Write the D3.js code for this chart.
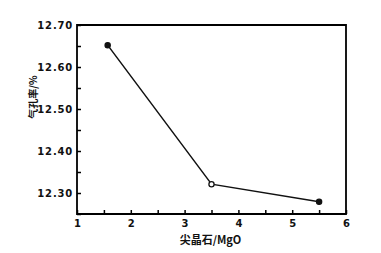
<!DOCTYPE html>
<html>
<head>
<meta charset="utf-8">
<script src="https://cdn.jsdelivr.net/npm/d3@7"></script>
<style>
  body { margin: 0; background: #fff; }
  svg text { font-family: "DejaVu Sans", sans-serif; font-weight: bold; fill: #111; }
</style>
</head>
<body>
<div id="chart"></div>
<script>
// Data
const ratios = [1.57, 3.5, 5.5];          // 尖晶石/MgO
const porosity = [12.652, 12.321, 12.279]; // 气孔率/%
const xTicks = [1, 2, 3, 4, 5, 6];
const yTicks = [12.30, 12.40, 12.50, 12.60, 12.70];

const W = 381, H = 253;
const margin = { top: 25, right: 35, bottom: 39, left: 77 };
const plotW = W - margin.left - margin.right;
const plotH = H - margin.top - margin.bottom;

const root = d3.select("#chart").append("svg")
    .attr("width", W).attr("height", H);

const x = d3.scaleLinear().domain([1, 6]).range([margin.left, margin.left + plotW]);
const y = d3.scaleLinear().domain([12.25, 12.70]).range([margin.top + plotH, margin.top]);

// frame
root.append("path")
    .attr("d", `M${x(1)},${y(12.70)}H${x(6)}V${y(12.25)}H${x(1)}Z`)
    .attr("fill", "none").attr("stroke", "black").attr("stroke-width", 1.8);

// x axis, ticks pointing inward
const xAxis = root.append("g")
    .attr("transform", `translate(0,${y(12.25)})`)
    .call(d3.axisBottom(x).tickValues(d3.range(1, 6.01, 0.5)).tickSize(-4)
        .tickFormat(d => xTicks.includes(d) ? d3.format("d")(d) : ""));
xAxis.select(".domain").remove();
xAxis.selectAll("line").attr("stroke", "black").attr("stroke-width", 1.5);
xAxis.selectAll("text").attr("dy", "1.0em").style("font-size", "10px");

// y axis
const yAxis = root.append("g")
    .attr("transform", `translate(${x(1)},0)`)
    .call(d3.axisLeft(y).tickValues(d3.range(12.25, 12.701, 0.05)).tickSize(-4)
        .tickFormat(d => yTicks.some(t => Math.abs(t - d) < 1e-6) ? d3.format(".2f")(d) : ""));
yAxis.select(".domain").remove();
yAxis.selectAll("line").attr("stroke", "black").attr("stroke-width", 1.5);
yAxis.selectAll("text").attr("x", -4).style("font-size", "10px").style("letter-spacing", "0.8px");

// line and points
const pts = ratios.map((r, i) => [r, porosity[i]]);
root.append("path")
    .datum(pts)
    .attr("fill", "none").attr("stroke", "#111").attr("stroke-width", 1.5)
    .attr("d", d3.line().x(d => x(d[0])).y(d => y(d[1])));

root.selectAll("circle.pt")
    .data(pts)
    .join("circle")
    .attr("class", "pt")
    .attr("cx", d => x(d[0]))
    .attr("cy", d => y(d[1]))
    .attr("r", 2.6)
    .attr("fill", (d, i) => i === 1 ? "#fff" : "#111")
    .attr("stroke", "#111").attr("stroke-width", 1.3);

// axis titles
root.append("text")
    .attr("x", x(3.5) - 1)
    .attr("y", y(12.25) + 30)
    .attr("text-anchor", "middle")
    .style("font-size", "11px")
    .style("font-family", "'Noto Sans CJK SC', sans-serif")
    .text("尖晶石/MgO");

root.append("text")
    .attr("transform", `translate(${x(1) - 40},${97}) rotate(-90)`)
    .attr("text-anchor", "middle")
    .style("font-size", "10px")
    .style("font-family", "'Noto Sans CJK SC', sans-serif")
    .text("气孔率/%");
</script>
</body>
</html>
